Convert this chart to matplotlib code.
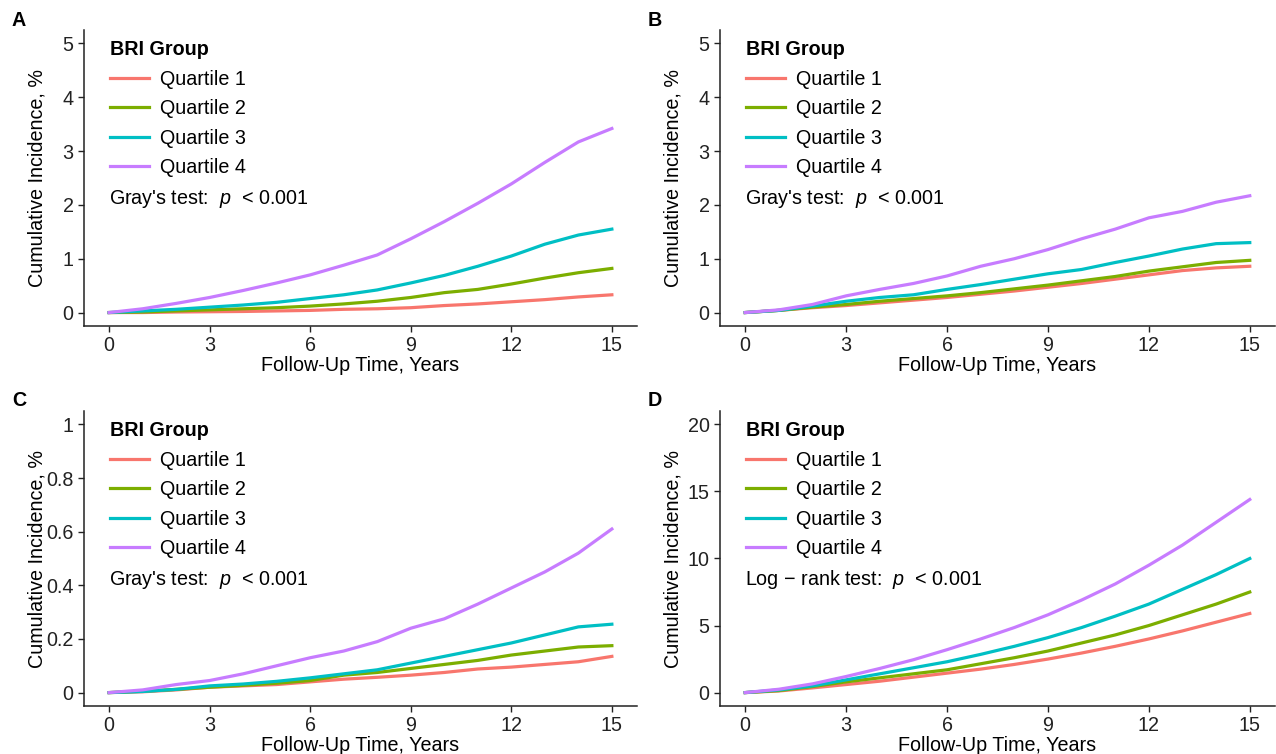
import matplotlib
matplotlib.use("Agg")
import matplotlib.pyplot as plt
import numpy as np

plt.rcParams['font.family'] = ['Liberation Sans', 'DejaVu Sans']
plt.rcParams['mathtext.fontset'] = 'custom'
plt.rcParams['mathtext.it'] = 'Liberation Sans:italic'
plt.rcParams['mathtext.rm'] = 'Liberation Sans'

years = np.arange(0, 16)
groups = ["Quartile 1", "Quartile 2", "Quartile 3", "Quartile 4"]
colors = ["#F8766D", "#7CAE00", "#00BFC4", "#C77CFF"]

# panel A
a_q1 = [0, 0.0, 0.01, 0.015, 0.02, 0.03, 0.04, 0.06, 0.07, 0.09, 0.13, 0.16, 0.20, 0.24, 0.29, 0.33]
a_q2 = [0, 0.01, 0.03, 0.05, 0.07, 0.09, 0.12, 0.16, 0.21, 0.28, 0.37, 0.43, 0.53, 0.64, 0.74, 0.82]
a_q3 = [0, 0.03, 0.06, 0.10, 0.14, 0.19, 0.26, 0.33, 0.42, 0.55, 0.69, 0.86, 1.05, 1.27, 1.44, 1.55]
a_q4 = [0, 0.07, 0.17, 0.28, 0.41, 0.55, 0.70, 0.88, 1.07, 1.37, 1.69, 2.03, 2.39, 2.79, 3.17, 3.42]
# panel B
b_q1 = [0, 0.04, 0.09, 0.13, 0.18, 0.23, 0.28, 0.34, 0.40, 0.47, 0.54, 0.62, 0.70, 0.78, 0.83, 0.86]
b_q2 = [0, 0.04, 0.10, 0.15, 0.21, 0.26, 0.31, 0.37, 0.44, 0.51, 0.59, 0.67, 0.77, 0.85, 0.93, 0.97]
b_q3 = [0, 0.04, 0.12, 0.21, 0.28, 0.33, 0.43, 0.52, 0.62, 0.72, 0.80, 0.93, 1.05, 1.18, 1.28, 1.30]
b_q4 = [0, 0.05, 0.15, 0.31, 0.43, 0.54, 0.68, 0.86, 1.00, 1.17, 1.37, 1.55, 1.76, 1.88, 2.05, 2.17]
# panel C
c_q1 = [0, 0.003, 0.01, 0.02, 0.025, 0.03, 0.04, 0.05, 0.057, 0.065, 0.075, 0.088, 0.095, 0.105, 0.115, 0.135]
c_q2 = [0, 0.005, 0.012, 0.02, 0.027, 0.035, 0.045, 0.065, 0.075, 0.09, 0.105, 0.12, 0.14, 0.155, 0.17, 0.175]
c_q3 = [0, 0.004, 0.012, 0.025, 0.032, 0.042, 0.055, 0.07, 0.085, 0.11, 0.135, 0.16, 0.185, 0.215, 0.245, 0.255]
c_q4 = [0, 0.01, 0.03, 0.045, 0.07, 0.10, 0.13, 0.155, 0.19, 0.24, 0.275, 0.33, 0.39, 0.45, 0.52, 0.61]
# panel D
d_q1 = [0, 0.12, 0.35, 0.6, 0.85, 1.15, 1.45, 1.75, 2.1, 2.5, 2.95, 3.45, 4.0, 4.6, 5.25, 5.9]
d_q2 = [0, 0.15, 0.45, 0.8, 1.1, 1.4, 1.7, 2.15, 2.6, 3.1, 3.7, 4.3, 5.0, 5.8, 6.6, 7.5]
d_q3 = [0, 0.2, 0.5, 0.95, 1.4, 1.85, 2.3, 2.85, 3.45, 4.1, 4.85, 5.7, 6.6, 7.7, 8.8, 10.0]
d_q4 = [0, 0.25, 0.65, 1.2, 1.8, 2.45, 3.2, 4.0, 4.85, 5.8, 6.9, 8.1, 9.5, 11.0, 12.7, 14.4]

panels = [
    ("A", [a_q1, a_q2, a_q3, a_q4], [0, 1, 2, 3, 4, 5], ["0", "1", "2", "3", "4", "5"], "Gray's test"),
    ("B", [b_q1, b_q2, b_q3, b_q4], [0, 1, 2, 3, 4, 5], ["0", "1", "2", "3", "4", "5"], "Gray's test"),
    ("C", [c_q1, c_q2, c_q3, c_q4], [0, 0.2, 0.4, 0.6, 0.8, 1], ["0", "0.2", "0.4", "0.6", "0.8", "1"], "Gray's test"),
    ("D", [d_q1, d_q2, d_q3, d_q4], [0, 5, 10, 15, 20], ["0", "5", "10", "15", "20"], "Log \u2212 rank test"),
]

W, H = 1276, 754
fs = 14.2
fig = plt.figure(figsize=(W / 100, H / 100), dpi=100)

# pixel boxes: left, right, top, bottom
boxes = [(84, 637, 30, 326), (720, 1275, 30, 326), (84, 637, 411, 706), (720, 1275, 411, 706)]

for (letter, series, yt, ytl, test), (l, r, t, b) in zip(panels, boxes):
    ax = fig.add_axes([l / W, 1 - b / H, (r - l) / W, (b - t) / H])
    for s, c, g in zip(series, colors, groups):
        ax.plot(years, s, color=c, lw=2.3, label=g)
    ymax = yt[-1]
    ax.set_xlim(-0.75, 15.75)
    ax.set_ylim(-0.05 * ymax, 1.05 * ymax)
    ax.set_xticks([0, 3, 6, 9, 12, 15])
    ax.set_yticks(yt)
    ax.set_yticklabels(ytl)
    ax.tick_params(labelsize=fs, colors="#222222", length=4, width=1)
    for sp in ["top", "right"]:
        ax.spines[sp].set_visible(False)
    for sp in ["left", "bottom"]:
        ax.spines[sp].set_linewidth(1.1)
        ax.spines[sp].set_color("#222222")
    ax.set_xlabel("Follow-Up Time, Years", fontsize=fs, labelpad=0.5)
    ax.set_ylabel("Cumulative Incidence, %", fontsize=fs)
    ax.yaxis.set_label_coords(-0.068, 0.5)
    leg = ax.legend(loc="upper left", bbox_to_anchor=(0.015, 1.025), frameon=False,
                    title="BRI Group", fontsize=fs, title_fontsize=fs,
                    handlelength=1.95, handletextpad=0.6, labelspacing=0.53,
                    alignment="left")
    leg.get_title().set_fontweight("bold")
    ax.text(0.045, 0.428, test + ":  $\\mathit{p}$  < 0.001", transform=ax.transAxes,
            fontsize=fs, va="center", ha="left")
    fig.text((l - 72) / W, 1 - (t - 10) / H, letter, fontsize=fs, fontweight="bold",
             va="center", ha="left")

fig.savefig("out.png", dpi=100)
